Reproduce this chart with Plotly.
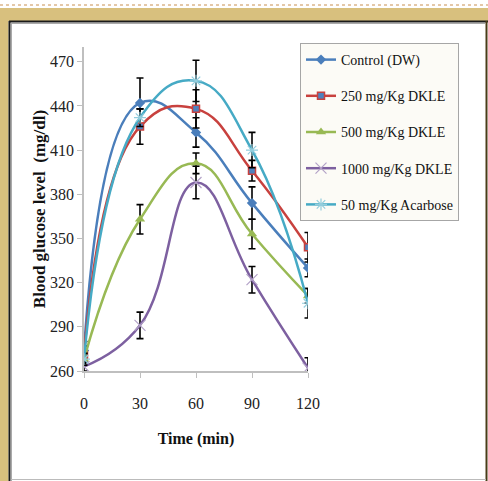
import plotly.graph_objects as go

time_min = [0, 30, 60, 90, 120]
control = [274, 442, 422, 374, 330]
control_err = [6, 17, 10, 11, 6]
dkle250 = [271, 426, 438, 396, 344]
dkle250_err = [6, 12, 13, 7, 10]
dkle500 = [268, 363, 401, 353, 311]
dkle500_err = [4, 10, 7, 10, 5]
dkle1000 = [263, 291, 388, 322, 262]
dkle1000_err = [3, 9, 11, 9, 7]
acarbose = [268, 432, 457, 410, 306]
acarbose_err = [4, 6, 14, 12, 10]

names = ["Control (DW)", "250 mg/Kg DKLE", "500 mg/Kg DKLE", "1000 mg/Kg DKLE", "50 mg/Kg Acarbose"]
y_ticks = [260, 290, 320, 350, 380, 410, 440, 470]
x_ticks = [0, 30, 60, 90, 120]

series = [
    (control, control_err, "#4A7EBB", dict(symbol="diamond", size=8, color="#4A7EBB")),
    (dkle250, dkle250_err, "#C8413E", dict(symbol="square", size=7, color="#4F81BD", line=dict(color="#C8413E", width=1.5))),
    (dkle500, dkle500_err, "#98B954", dict(symbol="triangle-up", size=9, color="#98B954")),
    (dkle1000, dkle1000_err, "#7D60A0", dict(symbol="x-thin-open", size=11, color="#B3A2C7", line=dict(color="#B3A2C7", width=1.2))),
    (acarbose, acarbose_err, "#46AAC5", dict(symbol="asterisk-open", size=10, color="#93CDDD", line=dict(color="#93CDDD", width=1.2))),
]

fig = go.Figure()
for i, (vals, err, col, mk) in enumerate(series):
    fig.add_trace(go.Scatter(
        x=time_min, y=vals, name=names[i], mode="lines+markers",
        line=dict(color=col, width=2.5, shape="spline", smoothing=1.3),
        marker=mk, legendgroup=f"g{i}",
        error_y=dict(type="data", array=err, color="black", thickness=1.6, width=3.5),
    ))

L, R, T, B = 84, 308, 47, 371
W, H = 488, 481
def X(px):
    return (px - L) / (R - L)
def Y(py):
    return (B - py) / (B - T)

shapes = []
gold = "#D8C07E"
shapes.append(dict(type="rect", xref="paper", yref="paper", x0=X(0), x1=X(8.5), y0=Y(481), y1=Y(8), fillcolor=gold, line=dict(width=0), layer="below"))
shapes.append(dict(type="rect", xref="paper", yref="paper", x0=X(0), x1=X(488), y0=Y(21), y1=Y(8), fillcolor=gold, line=dict(width=0), layer="below"))
shapes.append(dict(type="line", xref="paper", yref="paper", x0=X(0), x1=X(488), y0=Y(5), y1=Y(5), line=dict(color="#C89050", width=1, dash="dot")))
shapes.append(dict(type="line", xref="paper", yref="paper", x0=X(9.5), x1=X(9.5), y0=Y(21), y1=Y(481), line=dict(color="#1a1a1a", width=2)))
shapes.append(dict(type="line", xref="paper", yref="paper", x0=X(9), x1=X(488), y0=Y(21.5), y1=Y(21.5), line=dict(color="#1a1a1a", width=2)))
shapes.append(dict(type="line", xref="paper", yref="paper", x0=X(11.5), x1=X(11.5), y0=Y(23), y1=Y(481), line=dict(color="#aaaaaa", width=1)))
shapes.append(dict(type="line", xref="paper", yref="paper", x0=X(11), x1=X(485), y0=Y(23.5), y1=Y(23.5), line=dict(color="#aaaaaa", width=1)))
shapes.append(dict(type="line", xref="paper", yref="paper", x0=X(486.5), x1=X(486.5), y0=Y(21), y1=Y(481), line=dict(color="#4a3c18", width=2)))
shapes.append(dict(type="line", xref="paper", yref="paper", x0=X(11), x1=X(486), y0=Y(479.5), y1=Y(479.5), line=dict(color="#bbbbbb", width=1)))

serif = "Liberation Serif, Times New Roman, serif"
fig.update_layout(
    width=W, height=H,
    margin=dict(l=L, r=W - R, t=T, b=H - B, pad=0),
    paper_bgcolor="white", plot_bgcolor="white",
    font=dict(family=serif, size=14, color="#222222"),
    shapes=shapes,
    showlegend=True,
    legend=dict(
        x=X(300), y=Y(43), xanchor="left", yanchor="top",
        bgcolor="#FCFBF6", bordercolor="#A6A6A6", borderwidth=1,
        font=dict(family=serif, size=14, color="#111111"),
        tracegroupgap=15, itemwidth=30,
    ),
    xaxis=dict(
        range=[0, 120], tickvals=x_ticks, ticktext=[str(v) for v in x_ticks],
        showgrid=False, zeroline=False, showline=True, linecolor="#BFBFBF", linewidth=1.5,
        ticks="outside", ticklen=5, tickcolor="#BFBFBF", ticklabelstandoff=12,
        tickfont=dict(family=serif, size=16, color="#222222"),
        title=dict(text="<b>Time (min)</b>", font=dict(family=serif, size=16, color="#111111"), standoff=22),
    ),
    yaxis=dict(
        range=[260, 480], tickvals=y_ticks, ticktext=[str(v) for v in y_ticks],
        showgrid=False, zeroline=False, showline=True, linecolor="#BFBFBF", linewidth=1.5,
        ticks="outside", ticklen=5, tickcolor="#BFBFBF",
        tickfont=dict(family=serif, size=16, color="#222222"),
        title=dict(text="<b>Blood glucose level  (mg/dl)</b>", font=dict(family=serif, size=17, color="#111111"), standoff=0),
    ),
)

fig.write_html("out.html")
